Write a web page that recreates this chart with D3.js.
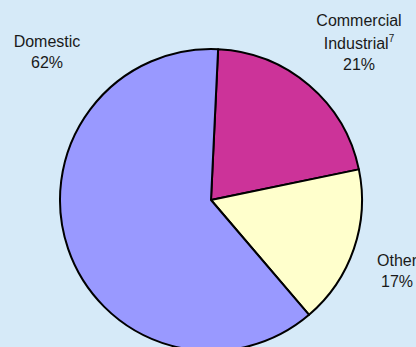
<!DOCTYPE html>
<html>
<head>
<meta charset="utf-8">
<script src="https://cdn.jsdelivr.net/npm/d3@7"></script>
<style>
  body { margin: 0; background: #d6eaf8; }
  svg { display: block; }
  text { font-family: "Liberation Sans", Arial, sans-serif; font-size: 16px; fill: #1a1a1a; }
</style>
</head>
<body>
<svg id="chart"></svg>
<script>
// slices, clockwise from (just right of) 12 o'clock
var categories = ["Commercial Industrial", "Other", "Domestic"];
var values = [21, 17, 62];
var colors = ["#cc3399", "#ffffcc", "#9999ff"];

var width = 416;
var height = 347;
var cx = 211, cy = 200, radius = 151;

var svg = d3.select("#chart").attr("width", width).attr("height", height);

svg.append("rect").attr("width", width).attr("height", height).attr("fill", "#d6eaf8");

var startOffset = 2.7 * Math.PI / 180;

var pie = d3.pie()
    .sort(null)
    .value(function (d) { return d; })
    .startAngle(startOffset)
    .endAngle(startOffset + 2 * Math.PI);

var arc = d3.arc().innerRadius(0).outerRadius(radius);

var g = svg.append("g").attr("transform", "translate(" + cx + "," + cy + ")");

g.selectAll("path")
    .data(pie(values))
    .enter().append("path")
    .attr("d", arc)
    .attr("fill", function (d, i) { return colors[i]; })
    .style("stroke", "#000")
    .style("stroke-width", 2)
    .style("stroke-linejoin", "round");

// labels
function pct(i) { return values[i] + "%"; }

var lab = svg.append("g").attr("text-anchor", "middle");

// Commercial / Industrial
lab.append("text").attr("x", 359).attr("y", 26).text("Commercial");
var ind = lab.append("text").attr("x", 359).attr("y", 49);
ind.append("tspan").text("Industrial");
ind.append("tspan").attr("dy", -7).style("font-size", "10px").text("7");
lab.append("text").attr("x", 359).attr("y", 70).text(pct(0));

// Other
lab.append("text").attr("x", 397).attr("y", 266).text("Other");
lab.append("text").attr("x", 397).attr("y", 287).text(pct(1));

// Domestic
lab.append("text").attr("x", 47).attr("y", 47).text("Domestic");
lab.append("text").attr("x", 47).attr("y", 68).text(pct(2));
</script>
</body>
</html>
